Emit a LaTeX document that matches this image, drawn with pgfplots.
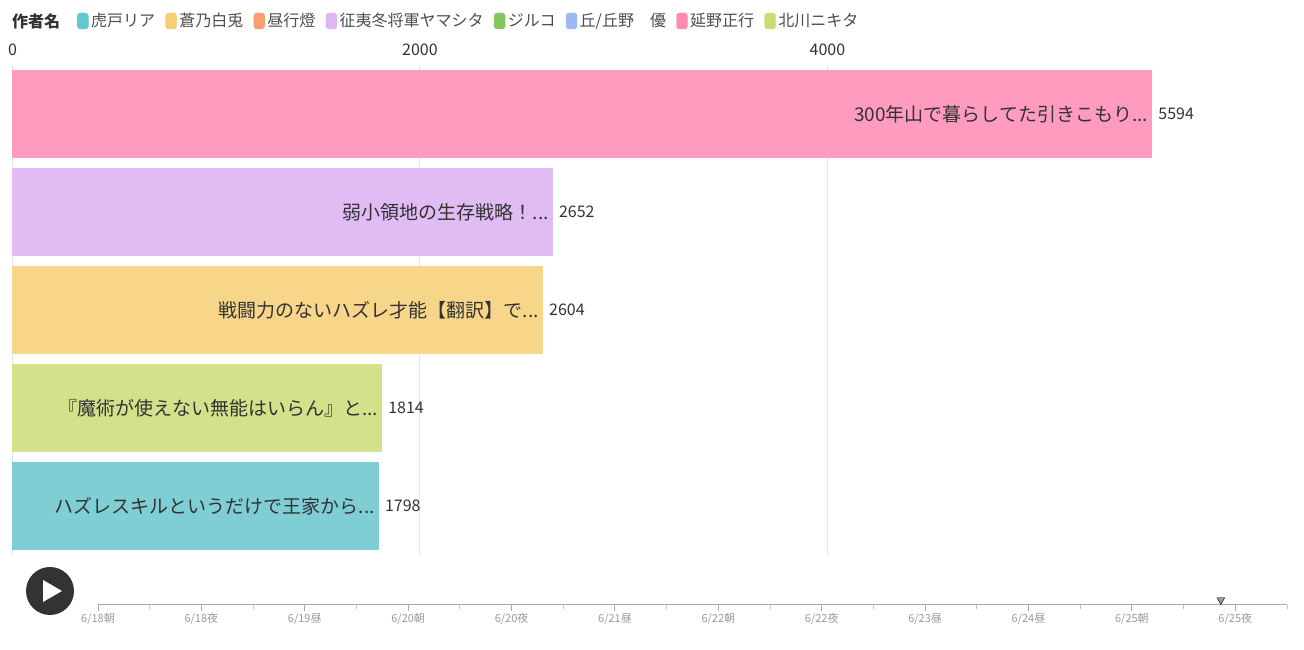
\documentclass[border=0pt]{standalone}
\usepackage{fontspec}
\setmainfont{Noto Sans CJK JP}
\usepackage{pgfplots}
\pgfplotsset{compat=1.18}
\definecolor{lteal}{HTML}{62C8CC}
\definecolor{lyellow}{HTML}{F7CF73}
\definecolor{lorange}{HTML}{F9A070}
\definecolor{lpurple}{HTML}{DEB6F2}
\definecolor{lgreen}{HTML}{88C45E}
\definecolor{lblue}{HTML}{9DB8F2}
\definecolor{lpink}{HTML}{FF8BB0}
\definecolor{lolive}{HTML}{C9DD74}
\definecolor{bteal}{HTML}{7ECED4}
\definecolor{byellow}{HTML}{F7D68A}
\definecolor{bpurple}{HTML}{E0BBF4}
\definecolor{bpink}{HTML}{FF9BBE}
\definecolor{bolive}{HTML}{D4E08A}
\definecolor{txt}{HTML}{333333}
\definecolor{legtxt}{HTML}{4D4D4D}
\definecolor{gridc}{HTML}{E3E3E3}
\definecolor{tlgray}{HTML}{AAAAAA}
\definecolor{tllabel}{HTML}{999999}
\definecolor{playgray}{HTML}{333333}
\pgfplotsset{
  legsw/.style={legend image code/.code={\fill[#1, rounded corners=3pt] (0pt,-8pt) rectangle (11pt,8pt);}},
}
\begin{document}
\begin{tikzpicture}[x=1pt,y=1pt]
\useasboundingbox (0,0) rectangle (1304,650);
\node[anchor=west, inner sep=0pt, font=\fontsize{16}{16}\selectfont\bfseries, text=txt] at (12,629) {作者名};
\begin{axis}[
  at={(12.5pt,95pt)}, anchor=south west, scale only axis,
  width=1141pt, height=490pt,
  xmin=0, xmax=5600, ymin=-0.5, ymax=4.5,
  xbar, bar width=0.898, bar shift=0pt,
  axis line style={draw=none},
  ytick=\empty,
  xtick={0,2000,4000},
  xmajorgrids, grid style={gridc, line width=1pt},
  major tick length=0pt,
  xticklabel pos=top,
  xticklabel style={font=\fontsize{16}{16}\selectfont, text=txt, yshift=6pt},
  /pgf/number format/1000 sep={},
  /pgf/number format/assume math mode=true,
  clip=false,
  legend columns=-1,
  legend style={at={(0.0565,1.0898)}, anchor=west, draw=none, fill=none, inner sep=0pt,
    font=\fontsize{16}{16}\selectfont, text=legtxt,
    /tikz/every even column/.append style={column sep=7.8pt},
    nodes={inner xsep=2.5pt, inner ysep=0pt}},
  legend cell align=left,
]
\addlegendimage{legsw=lteal}\addlegendentry{虎戸リア}
\addlegendimage{legsw=lyellow}\addlegendentry{蒼乃白兎}
\addlegendimage{legsw=lorange}\addlegendentry{昼行燈}
\addlegendimage{legsw=lpurple}\addlegendentry{征夷冬将軍ヤマシタ}
\addlegendimage{legsw=lgreen}\addlegendentry{ジルコ}
\addlegendimage{legsw=lblue}\addlegendentry{丘/丘野　優}
\addlegendimage{legsw=lpink}\addlegendentry{延野正行}
\addlegendimage{legsw=lolive}\addlegendentry{北川ニキタ}
\pgfplotsset{valstyle/.style={forget plot, draw=none, point meta=x, nodes near coords,
  every node near coord/.style={anchor=west, inner sep=0pt, xshift=6pt, font=\fontsize{16}{16}\selectfont, text=txt}}}
\addplot[valstyle, fill=bpink] coordinates {(5594,4)};
\addplot[valstyle, fill=bpurple] coordinates {(2652,3)};
\addplot[valstyle, fill=byellow] coordinates {(2604,2)};
\addplot[valstyle, fill=bolive] coordinates {(1814,1)};
\addplot[valstyle, fill=bteal] coordinates {(1798,0)};
\addplot[forget plot, draw=none, fill=none, point meta=explicit symbolic,
  nodes near coords={\pgfplotspointmeta},
  every node near coord/.style={anchor=east, inner sep=0pt, xshift=-4pt, font=\fontsize{19}{19}\selectfont, text=txt}]
  coordinates {
  (5594,4) [300年山で暮らしてた引きこもり...]
  (2652,3) [弱小領地の生存戦略！...]
  (2604,2) [戦闘力のないハズレ才能【翻訳】で...]
  (1814,1) [『魔術が使えない無能はいらん』と...]
  (1798,0) [ハズレスキルというだけで王家から...]
  };
\end{axis}
\fill[playgray] (50,59) circle (24);
\fill[white] (43,48) -- (43,70) -- (62,59) -- cycle;
\begin{axis}[
  at={(98pt,45pt)}, anchor=south west, scale only axis,
  width=1189pt, height=10pt,
  xmin=0, xmax=11.5, ymin=0, ymax=1,
  axis x line=bottom, axis y line=none,
  x axis line style={-, draw=tlgray, line width=1pt},
  xtick={0,1,...,11},
  xticklabels={6/18朝,6/18夜,6/19昼,6/20朝,6/20夜,6/21昼,6/22朝,6/22夜,6/23昼,6/24昼,6/25朝,6/25夜},
  minor xtick={0.5,1.5,...,11.5},
  tick align=outside,
  major tick length=6pt, minor tick length=4pt,
  major tick style={tlgray, line width=1pt},
  minor tick style={tlgray!70, line width=0.8pt},
  xticklabel style={font=\fontsize{11}{11}\selectfont, text=tllabel, yshift=1pt},
  clip=false,
]
\addplot[only marks, mark=triangle*, mark size=4.5pt, mark options={rotate=180, fill=tllabel, draw=none}] coordinates {(10.86,0.5)};
\end{axis}
\end{tikzpicture}
\end{document}
